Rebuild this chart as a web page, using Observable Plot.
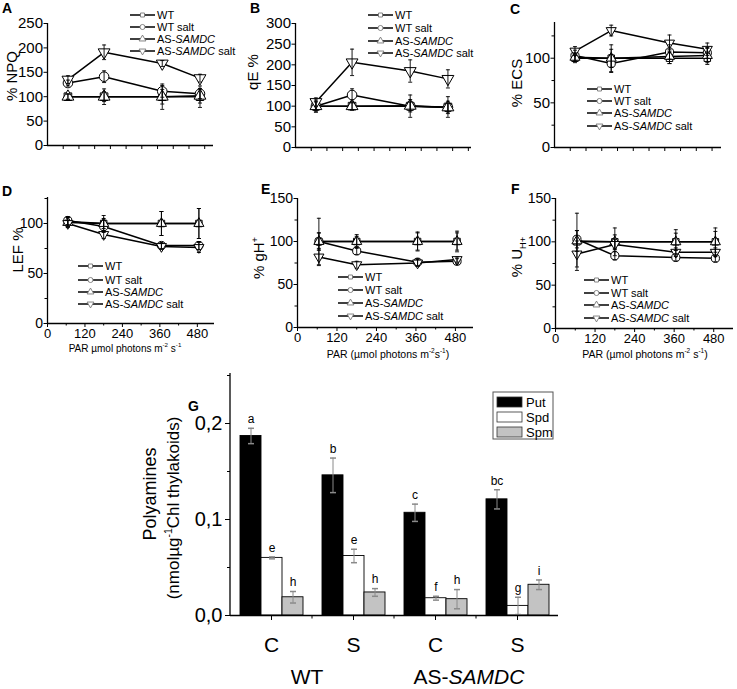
<!DOCTYPE html>
<html><head><meta charset="utf-8">
<script src="https://cdn.jsdelivr.net/npm/d3@7"></script>
<script src="https://cdn.jsdelivr.net/npm/@observablehq/plot@0.6"></script>
<style>
body{margin:0;background:#fff;}
#fig{position:relative;width:737px;height:689px;overflow:hidden;background:#fff;font-family:"Liberation Sans",Arial,sans-serif;}
</style></head><body><div id="fig"></div>
<script>
// ---------- data ----------
const par = [65, 180, 365, 485];
const seriesNames = ["WT", "WT salt", "AS-SAMDC", "AS-SAMDC salt"];

// A: % NPQ
const npqWT = [100, 100, 100, 100];
const npqWTsalt = [128, 141, 111, 106];
const npqAS = [100, 100, 100, 102];
const npqASsalt = [135, 191, 168, 138];
const npqErrWT = [5, 16, 26, 22];
const npqErrWTsalt = [6, 12, 12, 10];
const npqErrAS = [6, 10, 15, 15];
const npqErrASsalt = [8, 15, 6, 8];

// B: qE %
const qeWT = [100, 100, 100, 98];
const qeWTsalt = [100, 127, 100, 97];
const qeAS = [100, 100, 101, 97];
const qeASsalt = [110, 206, 185, 166];
const qeErrWT = [15, 10, 27, 25];
const qeErrWTsalt = [12, 15, 10, 10];
const qeErrAS = [10, 8, 15, 15];
const qeErrASsalt = [10, 32, 27, 22];

// C: % ECS
const ecsWT = [100, 100, 100, 100];
const ecsWTsalt = [103, 94, 107, 106];
const ecsAS = [101, 100, 102, 103];
const ecsASsalt = [108, 131, 117, 110];
const ecsErrWT = [5, 10, 6, 7];
const ecsErrWTsalt = [6, 10, 8, 6];
const ecsErrAS = [5, 15, 8, 8];
const ecsErrASsalt = [5, 6, 9, 7];

// D: LEF %
const lefWT = [102, 100, 100, 100];
const lefWTsalt = [103, 97, 78, 78];
const lefAS = [101, 100, 100, 100];
const lefASsalt = [100, 89, 77, 76];
const lefErrWT = [4, 5, 12, 15];
const lefErrWTsalt = [4, 6, 3, 4];
const lefErrAS = [5, 8, 12, 15];
const lefErrASsalt = [3, 4, 3, 5];

// E: % gH+
const ghWT = [100, 100, 100, 100];
const ghWTsalt = [100, 89, 76, 77];
const ghAS = [100, 100, 100, 100];
const ghASsalt = [82, 73, 75, 79];
const ghErrWT = [27, 8, 11, 12];
const ghErrWTsalt = [10, 4, 4, 3];
const ghErrAS = [10, 6, 10, 10];
const ghErrASsalt = [10, 4, 4, 3];

// F: % U H+
const uhWT = [100, 100, 100, 100];
const uhWTsalt = [103, 84, 82, 81];
const uhAS = [101, 100, 100, 100];
const uhASsalt = [86, 97, 88, 88];
const uhErrWT = [33, 16, 14, 16];
const uhErrWTsalt = [10, 5, 4, 4];
const uhErrAS = [12, 8, 10, 12];
const uhErrASsalt = [15, 6, 5, 5];

// G: polyamines
const genotypes = ["WT", "WT", "AS-SAMDC", "AS-SAMDC"];
const treatments = ["C", "S", "C", "S"];
const amines = ["Put", "Spd", "Spm"];
const putVals = [0.187, 0.146, 0.107, 0.121];
const spdVals = [0.060, 0.062, 0.018, 0.010];
const spmVals = [0.019, 0.024, 0.017, 0.032];
const putErr = [0.008, 0.018, 0.009, 0.010];
const spdErr = [0.001, 0.007, 0.002, 0.009];
const spmErr = [0.006, 0.004, 0.010, 0.005];
const putLetters = ["a", "b", "c", "bc"];
const spdLetters = ["e", "e", "f", "g"];
const spmLetters = ["h", "h", "h", "i"];

// ---------- helpers ----------
const fig = document.getElementById("fig");
const FONT = "Liberation Sans, Arial, Helvetica, sans-serif";
const capSymbol = {draw(ctx, size) { const w = Math.sqrt(size / Math.PI); ctx.moveTo(-w, 0); ctx.lineTo(w, 0); }};
const symDefs = [["square", 0, 4.3], ["circle", 0, 4.8], ["triangle", 0, 4.4], ["triangle", 180, 4.4]];

function place(el, left, top) {
  el.style.position = "absolute"; el.style.left = left + "px"; el.style.top = top + "px";
  fig.appendChild(el);
}

function linePanel(p) {
  const rows = [];
  p.vals.forEach((vals, si) => vals.forEach((v, i) => rows.push({par: par[i], v, e: p.errs[si][i], s: seriesNames[si]})));
  const marks = [
    Plot.ruleX([p.x[0]], {stroke: "black", strokeWidth: 1.3}),
    Plot.ruleY([p.y[0]], {stroke: "black", strokeWidth: 1.3}),
    Plot.line(rows, {x: "par", y: "v", z: "s", stroke: "black", strokeWidth: 1.5}),
    ...seriesNames.map((name, si) => Plot.dot(rows.filter(d => d.s === name), {
      x: "par", y: "v", symbol: symDefs[si][0], rotate: symDefs[si][1], r: symDefs[si][2] * p.ms,
      fill: "white", stroke: "black", strokeWidth: 1
    })),
    Plot.ruleX(rows, {x: "par", y1: d => d.v - d.e, y2: d => d.v + d.e, stroke: "black", strokeWidth: 0.9}),
    Plot.dot(rows, {x: "par", y: d => d.v + d.e, symbol: capSymbol, r: 2, stroke: "black", fill: "none", strokeWidth: 0.9}),
    Plot.dot(rows, {x: "par", y: d => d.v - d.e, symbol: capSymbol, r: 2, stroke: "black", fill: "none", strokeWidth: 0.9}),
    Plot.axisY({ticks: p.yTicks, tickSize: 3.5, tickPadding: 1, fontSize: p.fs, label: null}),
  ];
  if (p.yMinor.length) marks.push(Plot.axisY({ticks: p.yMinor, tickSize: 2.5, tickFormat: () => "", label: null}));
  if (p.bottom) {
    marks.push(Plot.axisX({ticks: [0, 120, 240, 360, 480], tickSize: 4, tickPadding: 1, fontSize: 13, label: null}));
    marks.push(Plot.axisX({ticks: [60, 180, 300, 420], tickSize: 2.5, tickFormat: () => "", label: null}));
  } else {
    marks.push(Plot.axisX({ticks: d3.range(50, p.x[1], 50), tickSize: 4, tickFormat: () => "", label: null}));
  }
  const chart = Plot.plot({
    width: p.width, height: p.height,
    marginLeft: p.mL, marginRight: p.mR, marginTop: p.mT, marginBottom: p.mB,
    x: {domain: p.x}, y: {domain: p.y},
    style: {fontFamily: FONT, color: "black", background: "transparent", overflow: "visible"},
    marks
  });
  place(chart, p.left, p.top);
}

const panels = [
  {left: 0, top: 0, width: 245, height: 160, mL: 47, mR: 32, mT: 23, mB: 15, x: [0, 528], y: [0, 250],
   yTicks: d3.range(0, 251, 50), yMinor: [], fs: 15, ms: 1.0, bottom: false,
   vals: [npqWT, npqWTsalt, npqAS, npqASsalt], errs: [npqErrWT, npqErrWTsalt, npqErrAS, npqErrASsalt]},
  {left: 240, top: 0, width: 250, height: 160, mL: 55, mR: 19, mT: 23, mB: 13, x: [0, 560], y: [0, 300],
   yTicks: d3.range(0, 301, 50), yMinor: [], fs: 15, ms: 1.0, bottom: false,
   vals: [qeWT, qeWTsalt, qeAS, qeASsalt], errs: [qeErrWT, qeErrWTsalt, qeErrAS, qeErrASsalt]},
  {left: 487, top: 0, width: 250, height: 160, mL: 67, mR: 16, mT: 22, mB: 13, x: [0, 530], y: [0, 140],
   yTicks: [0, 50, 100], yMinor: [25, 75, 125], fs: 15, ms: 0.85, bottom: false,
   vals: [ecsWT, ecsWTsalt, ecsAS, ecsASsalt], errs: [ecsErrWT, ecsErrWTsalt, ecsErrAS, ecsErrASsalt]},
  {left: 0, top: 170, width: 245, height: 190, mL: 47, mR: 31, mT: 27, mB: 37, x: [0, 535], y: [0, 126],
   yTicks: [0, 50, 100], yMinor: [25, 75, 125], fs: 14, ms: 0.85, bottom: true,
   vals: [lefWT, lefWTsalt, lefAS, lefASsalt], errs: [lefErrWT, lefErrWTsalt, lefErrAS, lefErrASsalt]},
  {left: 240, top: 170, width: 250, height: 190, mL: 57, mR: 17, mT: 28, mB: 33, x: [0, 535], y: [0, 150],
   yTicks: [0, 50, 100, 150], yMinor: [25, 75, 125], fs: 14, ms: 0.85, bottom: true,
   vals: [ghWT, ghWTsalt, ghAS, ghASsalt], errs: [ghErrWT, ghErrWTsalt, ghErrAS, ghErrASsalt]},
  {left: 487, top: 170, width: 250, height: 190, mL: 68, mR: 4, mT: 28, mB: 32, x: [0, 540], y: [0, 150],
   yTicks: [0, 50, 100, 150], yMinor: [25, 75, 125], fs: 14, ms: 0.85, bottom: true,
   vals: [uhWT, uhWTsalt, uhAS, uhASsalt], errs: [uhErrWT, uhErrWTsalt, uhErrAS, uhErrASsalt]},
];
panels.forEach(linePanel);

// ---------- G: bar chart ----------
const groups = genotypes.map((g, i) => g + " " + treatments[i]);
const aVals = [putVals, spdVals, spmVals];
const aErrs = [putErr, spdErr, spmErr];
const aLetters = [putLetters, spdLetters, spmLetters];
const aFills = ["black", "white", "#c3c3c3"];
const gRows = [];
groups.forEach((g, gi) => amines.forEach((a, ai) => gRows.push({g, a, v: aVals[ai][gi], e: aErrs[ai][gi], letter: aLetters[ai][gi]})));
const G = {left: 150, top: 360, width: 420, height: 329, mL: 80, mR: 12, mT: 15, mB: 74};
const gChart = Plot.plot({
  width: G.width, height: G.height, marginLeft: G.mL, marginRight: G.mR, marginTop: G.mT, marginBottom: G.mB,
  fx: {domain: groups, paddingInner: 0, paddingOuter: 0, label: null, axis: null},
  x: {domain: amines, paddingInner: 0, paddingOuter: 0.364, axis: null},
  y: {domain: [0, 0.25]},
  style: {fontFamily: FONT, color: "black", background: "transparent", overflow: "visible"},
  marks: [
    ...amines.map((a, ai) => Plot.barY(gRows.filter(d => d.a === a), {fx: "g", x: "a", y: "v", fill: aFills[ai], stroke: "black", strokeWidth: 0.9})),
    Plot.ruleX(gRows, {fx: "g", x: "a", y1: d => Math.max(0, d.v - d.e), y2: d => d.v + d.e, stroke: "#8a8a8a", strokeWidth: 1}),
    Plot.dot(gRows, {fx: "g", x: "a", y: d => d.v + d.e, symbol: capSymbol, r: 3, stroke: "#8a8a8a", fill: "none"}),
    Plot.dot(gRows, {fx: "g", x: "a", y: d => d.v - d.e, symbol: capSymbol, r: 3, stroke: "#8a8a8a", fill: "none"}),
    Plot.text(gRows, {fx: "g", x: "a", y: d => d.v + d.e, text: "letter", dy: -9, fontSize: 12, fill: "black"}),
    Plot.ruleY([0], {stroke: "black", strokeWidth: 1.3}),
    Plot.axisY({ticks: [0, 0.1, 0.2], tickFormat: d => d.toFixed(1).replace(".", ","), tickSize: 5, tickPadding: 3, fontSize: 20, label: null}),
    Plot.axisY({ticks: [0.05, 0.15, 0.25], tickSize: 3, tickFormat: () => "", label: null}),
    Plot.axisFx({anchor: "bottom", tickSize: 5, tickPadding: 17, fontSize: 21, tickFormat: g => treatments[groups.indexOf(g)], label: null})
  ]
});
place(gChart, G.left, G.top);

// ---------- overlay: labels and legends ----------
const ov = d3.create("svg").attr("width", 737).attr("height", 689)
  .style("position", "absolute").style("left", "0px").style("top", "0px")
  .style("pointer-events", "none").style("font-family", FONT);

function addText(x, y, parts, {size = 11, anchor = "start", rotate = 0, weight = "normal"} = {}) {
  const t = ov.append("text").attr("transform", `translate(${x},${y}) rotate(${rotate})`)
    .attr("y", 0.35 * size).attr("text-anchor", anchor).attr("font-size", size)
    .attr("font-weight", weight).attr("fill", "black");
  let shift = 0;
  parts.forEach(p => {
    const [s, st] = Array.isArray(p) ? p : [p, ""];
    const ts = t.append("tspan").text(s);
    let target = 0;
    if (st === "sup") target = -0.42 * size;
    if (st === "sub") target = 0.28 * size;
    if (target !== shift) { ts.attr("dy", target - shift); shift = target; }
    if (st === "sup" || st === "sub") ts.attr("font-size", size * 0.62);
    if (st === "i") ts.attr("font-style", "italic");
  });
  return t;
}

// panel letters
[["A", 2, 8], ["B", 250, 8], ["C", 510, 9], ["D", 2, 191], ["E", 261, 189], ["F", 511, 189], ["G", 188, 406]]
  .forEach(([l, x, y]) => addText(x, y, [l], {size: 14, weight: "bold"}));

// y-axis labels
addText(12, 76, ["% NPQ"], {size: 15, anchor: "middle", rotate: -90});
addText(253, 72, ["qE %"], {size: 15, anchor: "middle", rotate: -90});
addText(517, 83, ["% ECS"], {size: 15, anchor: "middle", rotate: -90});
addText(18, 250, ["LEF %"], {size: 15, anchor: "middle", rotate: -90});
addText(259, 258, ["% gH", ["+", "sup"]], {size: 15, anchor: "middle", rotate: -90});
addText(517, 257, ["% U", ["H+", "sub"]], {size: 15, anchor: "middle", rotate: -90});

// x-axis labels
addText(125, 348, ["PAR µmol photons m", ["-2", "sup"], " s", ["-1", "sup"]], {size: 10, anchor: "middle"});
addText(388, 354, ["PAR (µmol photons m", ["-2", "sup"], "s", ["-1", "sup"], ")"], {size: 10.5, anchor: "middle"});
addText(645, 354, ["PAR (µmol photons m", ["-2", "sup"], " s", ["-1", "sup"], ")"], {size: 10.5, anchor: "middle"});

// line legends
const legendLabels = [["WT"], ["WT salt"], ["AS-", ["SAMDC", "i"]], ["AS-", ["SAMDC", "i"], " salt"]];
const legendSyms = [[d3.symbolSquare, 0, 16], [d3.symbolCircle, 0, 20], [d3.symbolTriangle, 0, 20], [d3.symbolTriangle, 180, 20]];
function lineLegend(x0, ys) {
  ys.forEach((y, si) => {
    ov.append("line").attr("x1", x0).attr("x2", x0 + 25).attr("y1", y).attr("y2", y).attr("stroke", "black").attr("stroke-width", 1.5);
    ov.append("path").attr("d", d3.symbol(legendSyms[si][0], legendSyms[si][2])())
      .attr("transform", `translate(${x0 + 12.5},${y}) rotate(${legendSyms[si][1]})`)
      .attr("fill", "white").attr("stroke", "#777").attr("stroke-width", 0.9);
    addText(x0 + 27, y, legendLabels[si], {size: 11});
  });
}
lineLegend(130, [15, 27, 39, 51]);
lineLegend(368, [15, 28, 41, 53]);
lineLegend(587, [89, 101, 113, 126]);
lineLegend(78, [266, 280, 292, 304]);
lineLegend(338, [277, 290, 303, 316]);
lineLegend(584, [280, 293, 305, 318]);

// G decorations
ov.append("line").attr("x1", G.left + G.mL).attr("x2", G.left + G.mL)
  .attr("y1", G.top + G.mT - 2).attr("y2", G.top + G.height - G.mB).attr("stroke", "black").attr("stroke-width", 1.3);
const fxs = gChart.scale("fx");
groups.slice(1).forEach(g => {
  const x = G.left + fxs.apply(g);
  ov.append("line").attr("x1", x).attr("x2", x).attr("y1", G.top + G.height - G.mB).attr("y2", G.top + G.height - G.mB + 3.5)
    .attr("stroke", "black").attr("stroke-width", 1);
});
addText(150, 494, ["Polyamines"], {size: 18, anchor: "middle", rotate: -90});
addText(173, 508, ["(nmolµg", ["-1", "sup"], "Chl thylakoids)"], {size: 17, anchor: "middle", rotate: -90});
addText(307, 677, ["WT"], {size: 21, anchor: "middle"});
addText(469, 677, ["AS-", ["SAMDC", "i"]], {size: 21, anchor: "middle"});

// G legend
ov.append("rect").attr("x", 493).attr("y", 392).attr("width", 60).attr("height", 47)
  .attr("fill", "white").attr("stroke", "#555").attr("stroke-width", 1);
amines.forEach((a, ai) => {
  const y = 397 + ai * 15;
  ov.append("rect").attr("x", 497).attr("y", y).attr("width", 25).attr("height", 10)
    .attr("fill", aFills[ai]).attr("stroke", "#333").attr("stroke-width", 0.8);
  addText(526, y + 5, [a], {size: 13});
});

fig.appendChild(ov.node());
</script></body></html>
